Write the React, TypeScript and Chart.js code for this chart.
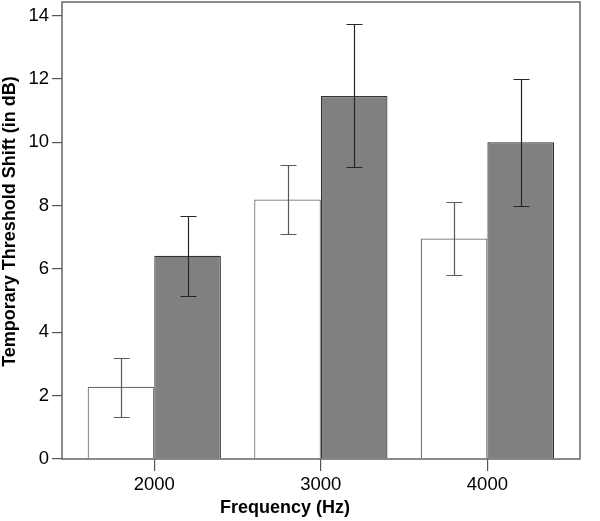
import React, { useEffect, useRef } from "react";
import { Chart, registerables } from "chart.js";

Chart.register(...registerables);

const categories = [2000, 3000, 4000];
const meansA = [2.28, 8.19, 6.96];
const lowerA = [1.34, 7.12, 5.81];
const upperA = [3.19, 9.27, 8.13];
const meansB = [6.42, 11.46, 10.0];
const lowerB = [5.16, 9.22, 7.98];
const upperB = [7.68, 13.73, 12.0];
const yTicks = [0, 2, 4, 6, 8, 10, 12, 14];
const xTitle = "Frequency (Hz)";
const yTitle = "Temporary Threshold Shift (in dB)";

const FONT = "'Liberation Sans', Arial, Helvetica, sans-serif";

const errorBarPlugin = {
  id: "errorBars",
  afterDatasetsDraw(chart: any) {
    const ctx = chart.ctx;
    const ys = chart.scales.y;
    const sets: [number[], number[], string][] = [
      [lowerA, upperA, "#5a5a5a"],
      [lowerB, upperB, "#262626"],
    ];
    ctx.save();
    ctx.lineWidth = 1.2;
    sets.forEach(([lo, hi, color], di) => {
      const meta = chart.getDatasetMeta(di);
      ctx.strokeStyle = color;
      meta.data.forEach((el: any, i: number) => {
        const x = Math.round(el.x) + 0.5;
        const yHi = Math.round(ys.getPixelForValue(hi[i])) + 0.5;
        const yLo = Math.round(ys.getPixelForValue(lo[i])) + 0.5;
        ctx.beginPath();
        ctx.moveTo(x, yHi);
        ctx.lineTo(x, yLo);
        ctx.moveTo(x - 8, yHi);
        ctx.lineTo(x + 8, yHi);
        ctx.moveTo(x - 8, yLo);
        ctx.lineTo(x + 8, yLo);
        ctx.stroke();
      });
    });
    ctx.restore();
  },
};

const framePlugin = {
  id: "frame",
  afterDraw(chart: any) {
    const { ctx, chartArea: a } = chart;
    ctx.save();
    ctx.strokeStyle = "#666";
    ctx.lineWidth = 1.5;
    ctx.strokeRect(a.left, a.top, a.right - a.left, a.bottom - a.top);
    ctx.fillStyle = "#000";
    ctx.font = `bold 18px ${FONT}`;
    ctx.textAlign = "center";
    ctx.textBaseline = "middle";
    ctx.fillText(xTitle, (a.left + a.right) / 2 - 36, 508);
    ctx.translate(10, (a.top + a.bottom) / 2 - 9);
    ctx.rotate(-Math.PI / 2);
    ctx.fillText(yTitle, 0, 0);
    ctx.restore();
  },
};

export default function App() {
  const ref = useRef<HTMLCanvasElement | null>(null);
  useEffect(() => {
    if (!ref.current) return;
    Chart.defaults.font.family = FONT;
    const chart = new Chart(ref.current, {
      type: "bar",
      data: {
        datasets: [
          {
            data: categories.map((c, i) => ({ x: c, y: meansA[i] })),
            backgroundColor: "#ffffff",
            borderColor: "#6a6a6a",
            borderWidth: 1.2,
            categoryPercentage: 0.8,
            barPercentage: 1.0,
          },
          {
            data: categories.map((c, i) => ({ x: c, y: meansB[i] })),
            backgroundColor: "#808080",
            borderColor: "#333333",
            borderWidth: 1.2,
            categoryPercentage: 0.8,
            barPercentage: 1.0,
          },
        ] as any,
      },
      options: {
        animation: false,
        responsive: true,
        maintainAspectRatio: false,
        layout: { padding: { top: 2, right: 20, left: 0, bottom: 0 } },
        plugins: { legend: { display: false }, tooltip: { enabled: false } },
        scales: {
          x: {
            type: "linear",
            offset: false,
            min: 1446,
            max: 4556,
            afterBuildTicks: (s: any) => {
              s.ticks = categories.map((v) => ({ value: v }));
            },
            afterFit: (s: any) => {
              s.height = 62;
              s.paddingLeft = 0;
              s.paddingRight = 0;
            },
            ticks: {
              color: "#000",
              font: { size: 18.5 },
              maxRotation: 0,
              padding: 3,
              callback: (v: any) => String(v),
            },
            grid: {
              offset: false,
              drawOnChartArea: false,
              drawTicks: true,
              tickLength: 12,
              color: "#555",
              lineWidth: 1.2,
            },
            border: { display: false },
          },
          y: {
            min: 0,
            max: 14.43,
            afterBuildTicks: (s: any) => {
              s.ticks = yTicks.map((v) => ({ value: v }));
            },
            afterFit: (s: any) => {
              s.width = 62;
              s.paddingTop = 0;
              s.paddingBottom = 0;
            },
            ticks: {
              color: "#000",
              font: { size: 18.5 },
              padding: 3,
              callback: (v: any) => String(v),
            },
            grid: {
              drawOnChartArea: false,
              drawTicks: true,
              tickLength: 10,
              color: "#555",
              lineWidth: 1.2,
            },
            border: { display: false },
          },
        },
      } as any,
      plugins: [errorBarPlugin, framePlugin],
    });
    return () => chart.destroy();
  }, []);
  return (
    <div style={{ position: "absolute", left: 0, top: 0, width: 600, height: 521, background: "#fff" }}>
      <canvas ref={ref} />
    </div>
  );
}
